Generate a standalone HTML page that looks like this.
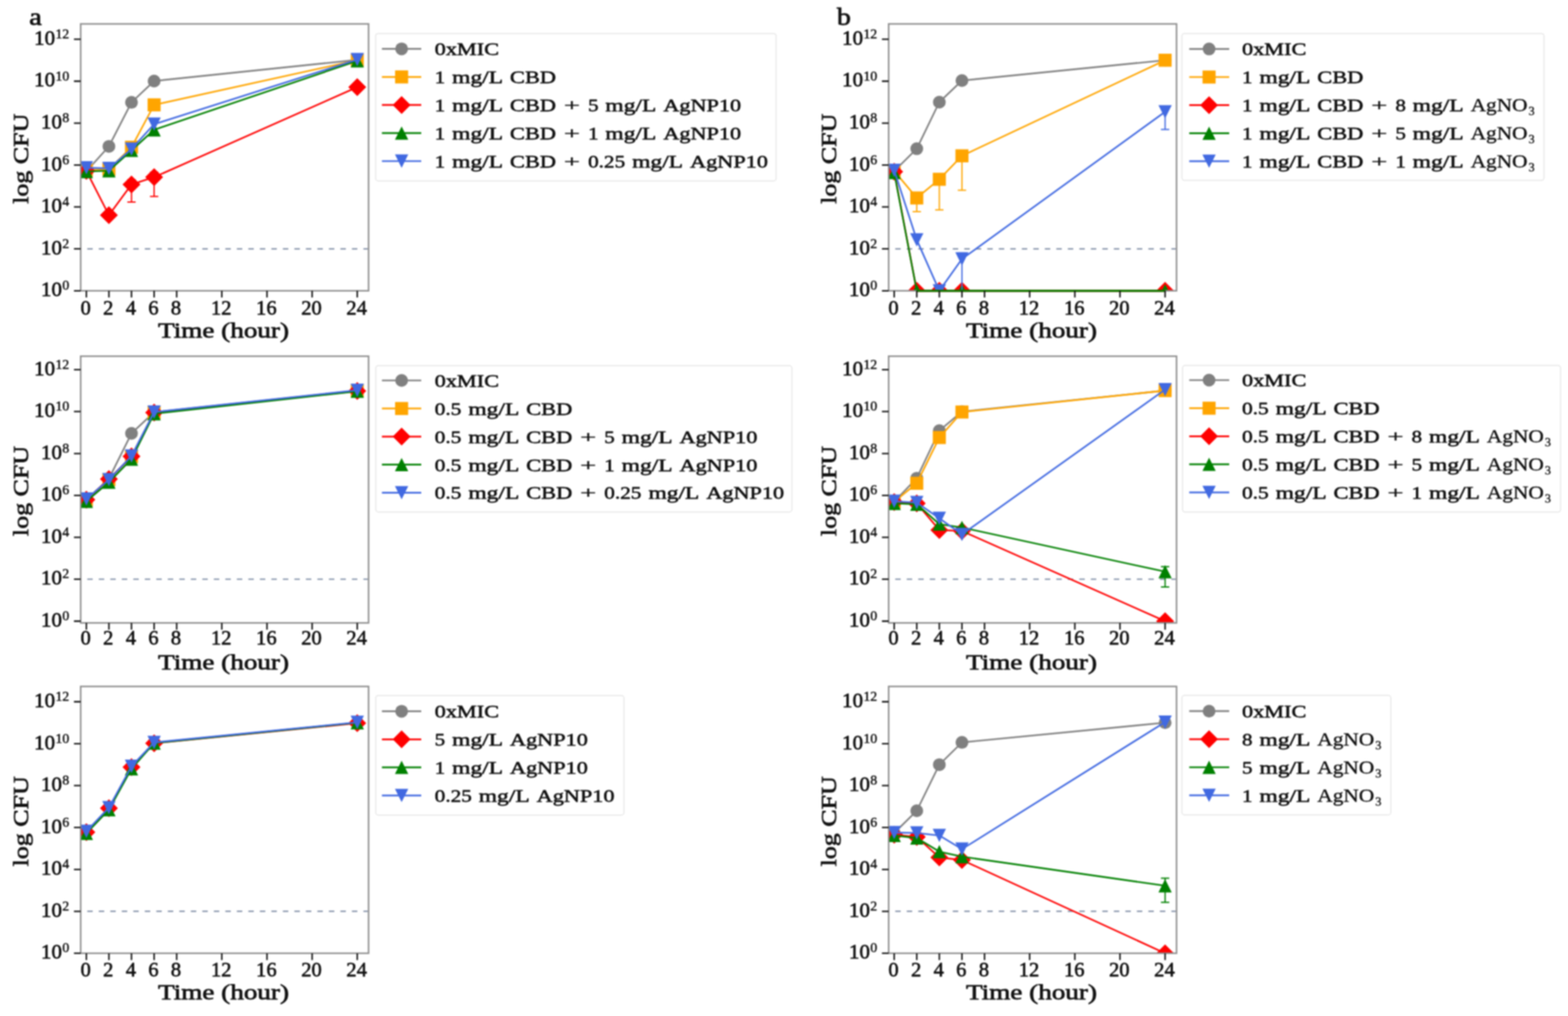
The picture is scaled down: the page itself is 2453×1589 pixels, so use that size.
<!DOCTYPE html>
<html><head><meta charset="utf-8"><title>Time-kill curves</title>
<style>
html,body{margin:0;padding:0;background:#fff;}
svg{display:block;}
.tb{font-family:'Liberation Serif', serif;font-weight:bold;fill:#111;}
.tr{font-family:'Liberation Serif', serif;font-weight:normal;fill:#111;}
.tm{font-family:'Liberation Serif', serif;font-weight:normal;fill:#111;stroke:#111;stroke-width:0.5px;}
.tc{font-family:'Liberation Serif', serif;font-weight:normal;fill:#111;stroke:#111;stroke-linejoin:round;}
</style></head><body>
<svg width="2453" height="1589" viewBox="0 0 2453 1589">
<defs><filter id="soft" x="0" y="0" width="2453" height="1589" filterUnits="userSpaceOnUse" color-interpolation-filters="sRGB"><feGaussianBlur stdDeviation="0.8"/></filter></defs>
<g filter="url(#soft)">
<rect width="2453" height="1589" fill="#fff"/>
<clipPath id="clipa1"><rect x="126.2" y="37.4" width="450.4" height="417.4"/></clipPath>
<line x1="127.2" y1="389.2" x2="575.6" y2="389.2" stroke="#7886a0" stroke-width="2.0" stroke-dasharray="8.5 9.5" stroke-dashoffset="8.65"/>
<g clip-path="url(#clipa1)">
<path d="M135.1 268.0L170.4 228.9L205.7 160.1L241.1 126.7L558.9 93.6" fill="none" stroke="#808080" stroke-width="2.6" stroke-linejoin="round"/>
<circle cx="135.1" cy="268.0" r="10" fill="#808080"/>
<circle cx="170.4" cy="228.9" r="10" fill="#808080"/>
<circle cx="205.7" cy="160.1" r="10" fill="#808080"/>
<circle cx="241.1" cy="126.7" r="10" fill="#808080"/>
<circle cx="558.9" cy="93.6" r="10" fill="#808080"/>
<path d="M135.1 266.3L170.4 264.7L205.7 230.3L241.1 164.0L558.9 94.2" fill="none" stroke="#ffa500" stroke-width="2.6" stroke-linejoin="round"/>
<rect x="124.9" y="256.1" width="20.4" height="20.4" fill="#ffa500"/>
<rect x="160.2" y="254.5" width="20.4" height="20.4" fill="#ffa500"/>
<rect x="195.5" y="220.1" width="20.4" height="20.4" fill="#ffa500"/>
<rect x="230.9" y="153.8" width="20.4" height="20.4" fill="#ffa500"/>
<rect x="548.7" y="84.0" width="20.4" height="20.4" fill="#ffa500"/>
<path d="M135.1 267.3L170.4 336.5L205.7 288.6L241.1 277.1L558.9 136.2" fill="none" stroke="#ff0000" stroke-width="2.6" stroke-linejoin="round"/>
<line x1="205.7" y1="281.1" x2="205.7" y2="316.1" stroke="#ff0000" stroke-width="2"/>
<line x1="199.2" y1="316.1" x2="212.2" y2="316.1" stroke="#ff0000" stroke-width="2"/>
<line x1="199.2" y1="281.1" x2="212.2" y2="281.1" stroke="#ff0000" stroke-width="2"/>
<line x1="241.1" y1="269.6" x2="241.1" y2="307.3" stroke="#ff0000" stroke-width="2"/>
<line x1="234.6" y1="307.3" x2="247.6" y2="307.3" stroke="#ff0000" stroke-width="2"/>
<line x1="234.6" y1="269.6" x2="247.6" y2="269.6" stroke="#ff0000" stroke-width="2"/>
<path d="M135.1 253.3L149.1 267.3L135.1 281.3L121.1 267.3Z" fill="#ff0000"/>
<path d="M170.4 322.5L184.4 336.5L170.4 350.5L156.4 336.5Z" fill="#ff0000"/>
<path d="M205.7 274.6L219.7 288.6L205.7 302.6L191.7 288.6Z" fill="#ff0000"/>
<path d="M241.1 263.1L255.1 277.1L241.1 291.1L227.1 277.1Z" fill="#ff0000"/>
<path d="M558.9 122.2L572.9 136.2L558.9 150.2L544.9 136.2Z" fill="#ff0000"/>
<path d="M135.1 268.3L170.4 267.0L205.7 235.2L241.1 203.0L558.9 95.2" fill="none" stroke="#008000" stroke-width="2.6" stroke-linejoin="round"/>
<path d="M135.1 257.9L145.5 278.7L124.7 278.7Z" fill="#008000"/>
<path d="M170.4 256.6L180.8 277.4L160.0 277.4Z" fill="#008000"/>
<path d="M205.7 224.8L216.1 245.6L195.3 245.6Z" fill="#008000"/>
<path d="M241.1 192.6L251.5 213.4L230.7 213.4Z" fill="#008000"/>
<path d="M558.9 84.8L569.3 105.6L548.5 105.6Z" fill="#008000"/>
<path d="M135.1 262.4L170.4 263.4L205.7 233.2L241.1 194.2L558.9 93.2" fill="none" stroke="#4169e1" stroke-width="2.6" stroke-linejoin="round"/>
<path d="M135.1 272.8L145.5 252.0L124.7 252.0Z" fill="#4169e1"/>
<path d="M170.4 273.8L180.8 253.0L160.0 253.0Z" fill="#4169e1"/>
<path d="M205.7 243.6L216.1 222.8L195.3 222.8Z" fill="#4169e1"/>
<path d="M241.1 204.6L251.5 183.8L230.7 183.8Z" fill="#4169e1"/>
<path d="M558.9 103.6L569.3 82.8L548.5 82.8Z" fill="#4169e1"/>
</g>
<rect x="126.2" y="37.4" width="450.4" height="417.4" fill="none" stroke="#8e8e8e" stroke-width="2.4"/>
<path d="M135.1 454.8V465.3M170.4 454.8V465.3M205.7 454.8V465.3M241.1 454.8V465.3M276.4 454.8V465.3M347.0 454.8V465.3M417.7 454.8V465.3M488.3 454.8V465.3M558.9 454.8V465.3M126.2 454.8H115.7M126.2 389.2H115.7M126.2 323.7H115.7M126.2 258.1H115.7M126.2 192.6H115.7M126.2 127.0H115.7M126.2 61.4H115.7" stroke="#111" stroke-width="2.3" fill="none"/>
<text x="134.1" y="491.8" font-size="31.5" text-anchor="middle" class="tc" stroke-width="0.9" textLength="16.1" lengthAdjust="spacingAndGlyphs">0</text>
<text x="169.4" y="491.8" font-size="31.5" text-anchor="middle" class="tc" stroke-width="0.9" textLength="16.1" lengthAdjust="spacingAndGlyphs">2</text>
<text x="204.7" y="491.8" font-size="31.5" text-anchor="middle" class="tc" stroke-width="0.9" textLength="16.1" lengthAdjust="spacingAndGlyphs">4</text>
<text x="240.1" y="491.8" font-size="31.5" text-anchor="middle" class="tc" stroke-width="0.9" textLength="16.1" lengthAdjust="spacingAndGlyphs">6</text>
<text x="275.4" y="491.8" font-size="31.5" text-anchor="middle" class="tc" stroke-width="0.9" textLength="16.1" lengthAdjust="spacingAndGlyphs">8</text>
<text x="346.0" y="491.8" font-size="31.5" text-anchor="middle" class="tc" stroke-width="0.9" textLength="32.2" lengthAdjust="spacingAndGlyphs">12</text>
<text x="416.7" y="491.8" font-size="31.5" text-anchor="middle" class="tc" stroke-width="0.9" textLength="32.2" lengthAdjust="spacingAndGlyphs">16</text>
<text x="487.3" y="491.8" font-size="31.5" text-anchor="middle" class="tc" stroke-width="0.9" textLength="32.2" lengthAdjust="spacingAndGlyphs">20</text>
<text x="557.9" y="491.8" font-size="31.5" text-anchor="middle" class="tc" stroke-width="0.9" textLength="32.2" lengthAdjust="spacingAndGlyphs">24</text>
<text x="108.3" y="453.3" font-size="21.5" text-anchor="end" class="tc" stroke-width="0.6">0</text>
<text x="97.0" y="463.2" font-size="31" text-anchor="end" class="tc" stroke-width="0.9" textLength="33" lengthAdjust="spacingAndGlyphs">10</text>
<text x="108.3" y="387.7" font-size="21.5" text-anchor="end" class="tc" stroke-width="0.6">2</text>
<text x="97.0" y="397.6" font-size="31" text-anchor="end" class="tc" stroke-width="0.9" textLength="33" lengthAdjust="spacingAndGlyphs">10</text>
<text x="108.3" y="322.2" font-size="21.5" text-anchor="end" class="tc" stroke-width="0.6">4</text>
<text x="97.0" y="332.1" font-size="31" text-anchor="end" class="tc" stroke-width="0.9" textLength="33" lengthAdjust="spacingAndGlyphs">10</text>
<text x="108.3" y="256.6" font-size="21.5" text-anchor="end" class="tc" stroke-width="0.6">6</text>
<text x="97.0" y="266.5" font-size="31" text-anchor="end" class="tc" stroke-width="0.9" textLength="33" lengthAdjust="spacingAndGlyphs">10</text>
<text x="108.3" y="191.1" font-size="21.5" text-anchor="end" class="tc" stroke-width="0.6">8</text>
<text x="97.0" y="201.0" font-size="31" text-anchor="end" class="tc" stroke-width="0.9" textLength="33" lengthAdjust="spacingAndGlyphs">10</text>
<text x="108.3" y="125.5" font-size="21.5" text-anchor="end" class="tc" stroke-width="0.6">10</text>
<text x="86.2" y="135.4" font-size="31" text-anchor="end" class="tc" stroke-width="0.9" textLength="33" lengthAdjust="spacingAndGlyphs">10</text>
<text x="108.3" y="59.9" font-size="21.5" text-anchor="end" class="tc" stroke-width="0.6">12</text>
<text x="86.2" y="69.8" font-size="31" text-anchor="end" class="tc" stroke-width="0.9" textLength="33" lengthAdjust="spacingAndGlyphs">10</text>
<text x="349.7" y="527.6" font-size="33.5" text-anchor="middle" class="tc" stroke-width="1.0" textLength="205" lengthAdjust="spacingAndGlyphs">Time (hour)</text>
<text transform="translate(43.7 248.3) rotate(-90)" x="0" y="0" font-size="34.5" text-anchor="middle" class="tc" stroke-width="1.0" textLength="141" lengthAdjust="spacingAndGlyphs">log CFU</text>
<rect x="587.6" y="52.4" width="626.6" height="230.6" rx="4" fill="#fff" fill-opacity="0.85" stroke="#e4e4e4" stroke-width="1.5"/>
<line x1="597.5" y1="76.4" x2="659.0" y2="76.4" stroke="#808080" stroke-width="2.7"/>
<circle cx="628.3" cy="76.4" r="10" fill="#808080"/>
<text x="680.0" y="86.2" font-size="28" class="tc" stroke-width="0.8" textLength="100.7" lengthAdjust="spacingAndGlyphs">0xMIC</text>
<line x1="597.5" y1="120.3" x2="659.0" y2="120.3" stroke="#ffa500" stroke-width="2.7"/>
<rect x="618.1" y="110.1" width="20.4" height="20.4" fill="#ffa500"/>
<text x="680.0" y="130.1" font-size="28" class="tc" stroke-width="0.8" textLength="16.4" lengthAdjust="spacingAndGlyphs">1</text>
<text x="707.3" y="130.1" font-size="28" class="tc" stroke-width="0.8" textLength="79.7" lengthAdjust="spacingAndGlyphs">mg/L</text>
<text x="797.8" y="130.1" font-size="28" class="tc" stroke-width="0.8" textLength="72.0" lengthAdjust="spacingAndGlyphs">CBD</text>
<line x1="597.5" y1="164.2" x2="659.0" y2="164.2" stroke="#ff0000" stroke-width="2.7"/>
<path d="M628.3 150.2L642.3 164.2L628.3 178.2L614.3 164.2Z" fill="#ff0000"/>
<text x="680.0" y="174.0" font-size="28" class="tc" stroke-width="0.8" textLength="16.4" lengthAdjust="spacingAndGlyphs">1</text>
<text x="707.3" y="174.0" font-size="28" class="tc" stroke-width="0.8" textLength="79.7" lengthAdjust="spacingAndGlyphs">mg/L</text>
<text x="797.8" y="174.0" font-size="28" class="tc" stroke-width="0.8" textLength="72.0" lengthAdjust="spacingAndGlyphs">CBD</text>
<text x="882.1" y="174.0" font-size="28" class="tm" textLength="25.4" lengthAdjust="spacingAndGlyphs">+</text>
<text x="919.9" y="174.0" font-size="28" class="tc" stroke-width="0.8" textLength="16.4" lengthAdjust="spacingAndGlyphs">5</text>
<text x="947.1" y="174.0" font-size="28" class="tc" stroke-width="0.8" textLength="79.7" lengthAdjust="spacingAndGlyphs">mg/L</text>
<text x="1037.7" y="174.0" font-size="28" class="tc" stroke-width="0.8" textLength="121.8" lengthAdjust="spacingAndGlyphs">AgNP10</text>
<line x1="597.5" y1="208.1" x2="659.0" y2="208.1" stroke="#008000" stroke-width="2.7"/>
<path d="M628.3 197.7L638.7 218.5L617.9 218.5Z" fill="#008000"/>
<text x="680.0" y="217.9" font-size="28" class="tc" stroke-width="0.8" textLength="16.4" lengthAdjust="spacingAndGlyphs">1</text>
<text x="707.3" y="217.9" font-size="28" class="tc" stroke-width="0.8" textLength="79.7" lengthAdjust="spacingAndGlyphs">mg/L</text>
<text x="797.8" y="217.9" font-size="28" class="tc" stroke-width="0.8" textLength="72.0" lengthAdjust="spacingAndGlyphs">CBD</text>
<text x="882.1" y="217.9" font-size="28" class="tm" textLength="25.4" lengthAdjust="spacingAndGlyphs">+</text>
<text x="919.9" y="217.9" font-size="28" class="tc" stroke-width="0.8" textLength="16.4" lengthAdjust="spacingAndGlyphs">1</text>
<text x="947.1" y="217.9" font-size="28" class="tc" stroke-width="0.8" textLength="79.7" lengthAdjust="spacingAndGlyphs">mg/L</text>
<text x="1037.7" y="217.9" font-size="28" class="tc" stroke-width="0.8" textLength="121.8" lengthAdjust="spacingAndGlyphs">AgNP10</text>
<line x1="597.5" y1="252.0" x2="659.0" y2="252.0" stroke="#4169e1" stroke-width="2.7"/>
<path d="M628.3 262.4L638.7 241.6L617.9 241.6Z" fill="#4169e1"/>
<text x="680.0" y="261.8" font-size="28" class="tc" stroke-width="0.8" textLength="16.4" lengthAdjust="spacingAndGlyphs">1</text>
<text x="707.3" y="261.8" font-size="28" class="tc" stroke-width="0.8" textLength="79.7" lengthAdjust="spacingAndGlyphs">mg/L</text>
<text x="797.8" y="261.8" font-size="28" class="tc" stroke-width="0.8" textLength="72.0" lengthAdjust="spacingAndGlyphs">CBD</text>
<text x="882.1" y="261.8" font-size="28" class="tm" textLength="25.4" lengthAdjust="spacingAndGlyphs">+</text>
<text x="919.9" y="261.8" font-size="28" class="tc" stroke-width="0.8" textLength="58.2" lengthAdjust="spacingAndGlyphs">0.25</text>
<text x="988.9" y="261.8" font-size="28" class="tc" stroke-width="0.8" textLength="79.7" lengthAdjust="spacingAndGlyphs">mg/L</text>
<text x="1079.5" y="261.8" font-size="28" class="tc" stroke-width="0.8" textLength="121.8" lengthAdjust="spacingAndGlyphs">AgNP10</text>
<clipPath id="clipb1"><rect x="1390.2" y="37.4" width="450.4" height="417.4"/></clipPath>
<line x1="1391.2" y1="389.2" x2="1839.6" y2="389.2" stroke="#7886a0" stroke-width="2.0" stroke-dasharray="8.5 9.5" stroke-dashoffset="8.65"/>
<g clip-path="url(#clipb1)">
<path d="M1398.9 267.6L1434.2 232.6L1469.5 159.8L1504.9 126.0L1822.7 94.2" fill="none" stroke="#808080" stroke-width="2.6" stroke-linejoin="round"/>
<circle cx="1398.9" cy="267.6" r="10" fill="#808080"/>
<circle cx="1434.2" cy="232.6" r="10" fill="#808080"/>
<circle cx="1469.5" cy="159.8" r="10" fill="#808080"/>
<circle cx="1504.9" cy="126.0" r="10" fill="#808080"/>
<circle cx="1822.7" cy="94.2" r="10" fill="#808080"/>
<path d="M1398.9 267.3L1434.2 309.6L1469.5 280.4L1504.9 243.7L1822.7 94.2" fill="none" stroke="#ffa500" stroke-width="2.6" stroke-linejoin="round"/>
<line x1="1434.2" y1="304.0" x2="1434.2" y2="330.9" stroke="#ffa500" stroke-width="2"/>
<line x1="1427.7" y1="330.9" x2="1440.7" y2="330.9" stroke="#ffa500" stroke-width="2"/>
<line x1="1427.7" y1="304.0" x2="1440.7" y2="304.0" stroke="#ffa500" stroke-width="2"/>
<line x1="1469.5" y1="274.5" x2="1469.5" y2="328.3" stroke="#ffa500" stroke-width="2"/>
<line x1="1463.0" y1="328.3" x2="1476.0" y2="328.3" stroke="#ffa500" stroke-width="2"/>
<line x1="1463.0" y1="274.5" x2="1476.0" y2="274.5" stroke="#ffa500" stroke-width="2"/>
<line x1="1504.9" y1="238.5" x2="1504.9" y2="297.5" stroke="#ffa500" stroke-width="2"/>
<line x1="1498.4" y1="297.5" x2="1511.4" y2="297.5" stroke="#ffa500" stroke-width="2"/>
<line x1="1498.4" y1="238.5" x2="1511.4" y2="238.5" stroke="#ffa500" stroke-width="2"/>
<rect x="1388.7" y="257.1" width="20.4" height="20.4" fill="#ffa500"/>
<rect x="1424.0" y="299.4" width="20.4" height="20.4" fill="#ffa500"/>
<rect x="1459.3" y="270.2" width="20.4" height="20.4" fill="#ffa500"/>
<rect x="1494.7" y="233.5" width="20.4" height="20.4" fill="#ffa500"/>
<rect x="1812.5" y="84.0" width="20.4" height="20.4" fill="#ffa500"/>
<path d="M1398.9 268.6L1434.2 454.8L1469.5 454.8L1504.9 454.8L1822.7 454.8" fill="none" stroke="#ff0000" stroke-width="2.6" stroke-linejoin="round"/>
<path d="M1398.9 254.6L1412.9 268.6L1398.9 282.6L1384.9 268.6Z" fill="#ff0000"/>
<path d="M1434.2 440.8L1448.2 454.8L1434.2 468.8L1420.2 454.8Z" fill="#ff0000"/>
<path d="M1469.5 440.8L1483.5 454.8L1469.5 468.8L1455.5 454.8Z" fill="#ff0000"/>
<path d="M1504.9 440.8L1518.9 454.8L1504.9 468.8L1490.9 454.8Z" fill="#ff0000"/>
<path d="M1822.7 440.8L1836.7 454.8L1822.7 468.8L1808.7 454.8Z" fill="#ff0000"/>
<path d="M1398.9 269.9L1434.2 454.8L1469.5 454.8L1504.9 454.8L1822.7 454.8" fill="none" stroke="#008000" stroke-width="2.6" stroke-linejoin="round"/>
<path d="M1398.9 259.5L1409.3 280.3L1388.5 280.3Z" fill="#008000"/>
<path d="M1434.2 444.4L1444.6 465.2L1423.8 465.2Z" fill="#008000"/>
<path d="M1469.5 444.4L1479.9 465.2L1459.1 465.2Z" fill="#008000"/>
<path d="M1504.9 444.4L1515.3 465.2L1494.5 465.2Z" fill="#008000"/>
<path d="M1822.7 444.4L1833.1 465.2L1812.3 465.2Z" fill="#008000"/>
<path d="M1398.9 266.3L1434.2 375.1L1469.5 454.8L1504.9 405.0L1822.7 174.9" fill="none" stroke="#4169e1" stroke-width="2.6" stroke-linejoin="round"/>
<line x1="1504.9" y1="395.8" x2="1504.9" y2="487.6" stroke="#4169e1" stroke-width="2"/>
<line x1="1498.4" y1="487.6" x2="1511.4" y2="487.6" stroke="#4169e1" stroke-width="2"/>
<line x1="1498.4" y1="395.8" x2="1511.4" y2="395.8" stroke="#4169e1" stroke-width="2"/>
<line x1="1822.7" y1="169.6" x2="1822.7" y2="202.4" stroke="#4169e1" stroke-width="2"/>
<line x1="1816.2" y1="202.4" x2="1829.2" y2="202.4" stroke="#4169e1" stroke-width="2"/>
<line x1="1816.2" y1="169.6" x2="1829.2" y2="169.6" stroke="#4169e1" stroke-width="2"/>
<path d="M1398.9 276.7L1409.3 255.9L1388.5 255.9Z" fill="#4169e1"/>
<path d="M1434.2 385.5L1444.6 364.7L1423.8 364.7Z" fill="#4169e1"/>
<path d="M1469.5 465.2L1479.9 444.4L1459.1 444.4Z" fill="#4169e1"/>
<path d="M1504.9 415.4L1515.3 394.6L1494.5 394.6Z" fill="#4169e1"/>
<path d="M1822.7 185.3L1833.1 164.5L1812.3 164.5Z" fill="#4169e1"/>
</g>
<rect x="1390.2" y="37.4" width="450.4" height="417.4" fill="none" stroke="#8e8e8e" stroke-width="2.4"/>
<line x1="1434.2" y1="454.8" x2="1469.5" y2="454.8" stroke="#ff0000" stroke-width="3.2"/>
<line x1="1469.5" y1="454.8" x2="1504.9" y2="454.8" stroke="#ff0000" stroke-width="3.2"/>
<line x1="1504.9" y1="454.8" x2="1822.7" y2="454.8" stroke="#ff0000" stroke-width="3.2"/>
<line x1="1434.2" y1="454.8" x2="1469.5" y2="454.8" stroke="#008000" stroke-width="3.2"/>
<line x1="1469.5" y1="454.8" x2="1504.9" y2="454.8" stroke="#008000" stroke-width="3.2"/>
<line x1="1504.9" y1="454.8" x2="1822.7" y2="454.8" stroke="#008000" stroke-width="3.2"/>
<path d="M1398.9 454.8V465.3M1434.2 454.8V465.3M1469.5 454.8V465.3M1504.9 454.8V465.3M1540.2 454.8V465.3M1610.8 454.8V465.3M1681.5 454.8V465.3M1752.1 454.8V465.3M1822.7 454.8V465.3M1390.2 454.8H1379.7M1390.2 389.2H1379.7M1390.2 323.7H1379.7M1390.2 258.1H1379.7M1390.2 192.6H1379.7M1390.2 127.0H1379.7M1390.2 61.4H1379.7" stroke="#111" stroke-width="2.3" fill="none"/>
<text x="1397.9" y="491.8" font-size="31.5" text-anchor="middle" class="tc" stroke-width="0.9" textLength="16.1" lengthAdjust="spacingAndGlyphs">0</text>
<text x="1433.2" y="491.8" font-size="31.5" text-anchor="middle" class="tc" stroke-width="0.9" textLength="16.1" lengthAdjust="spacingAndGlyphs">2</text>
<text x="1468.5" y="491.8" font-size="31.5" text-anchor="middle" class="tc" stroke-width="0.9" textLength="16.1" lengthAdjust="spacingAndGlyphs">4</text>
<text x="1503.9" y="491.8" font-size="31.5" text-anchor="middle" class="tc" stroke-width="0.9" textLength="16.1" lengthAdjust="spacingAndGlyphs">6</text>
<text x="1539.2" y="491.8" font-size="31.5" text-anchor="middle" class="tc" stroke-width="0.9" textLength="16.1" lengthAdjust="spacingAndGlyphs">8</text>
<text x="1609.8" y="491.8" font-size="31.5" text-anchor="middle" class="tc" stroke-width="0.9" textLength="32.2" lengthAdjust="spacingAndGlyphs">12</text>
<text x="1680.5" y="491.8" font-size="31.5" text-anchor="middle" class="tc" stroke-width="0.9" textLength="32.2" lengthAdjust="spacingAndGlyphs">16</text>
<text x="1751.1" y="491.8" font-size="31.5" text-anchor="middle" class="tc" stroke-width="0.9" textLength="32.2" lengthAdjust="spacingAndGlyphs">20</text>
<text x="1821.7" y="491.8" font-size="31.5" text-anchor="middle" class="tc" stroke-width="0.9" textLength="32.2" lengthAdjust="spacingAndGlyphs">24</text>
<text x="1372.3" y="453.3" font-size="21.5" text-anchor="end" class="tc" stroke-width="0.6">0</text>
<text x="1361.0" y="463.2" font-size="31" text-anchor="end" class="tc" stroke-width="0.9" textLength="33" lengthAdjust="spacingAndGlyphs">10</text>
<text x="1372.3" y="387.7" font-size="21.5" text-anchor="end" class="tc" stroke-width="0.6">2</text>
<text x="1361.0" y="397.6" font-size="31" text-anchor="end" class="tc" stroke-width="0.9" textLength="33" lengthAdjust="spacingAndGlyphs">10</text>
<text x="1372.3" y="322.2" font-size="21.5" text-anchor="end" class="tc" stroke-width="0.6">4</text>
<text x="1361.0" y="332.1" font-size="31" text-anchor="end" class="tc" stroke-width="0.9" textLength="33" lengthAdjust="spacingAndGlyphs">10</text>
<text x="1372.3" y="256.6" font-size="21.5" text-anchor="end" class="tc" stroke-width="0.6">6</text>
<text x="1361.0" y="266.5" font-size="31" text-anchor="end" class="tc" stroke-width="0.9" textLength="33" lengthAdjust="spacingAndGlyphs">10</text>
<text x="1372.3" y="191.1" font-size="21.5" text-anchor="end" class="tc" stroke-width="0.6">8</text>
<text x="1361.0" y="201.0" font-size="31" text-anchor="end" class="tc" stroke-width="0.9" textLength="33" lengthAdjust="spacingAndGlyphs">10</text>
<text x="1372.3" y="125.5" font-size="21.5" text-anchor="end" class="tc" stroke-width="0.6">10</text>
<text x="1350.2" y="135.4" font-size="31" text-anchor="end" class="tc" stroke-width="0.9" textLength="33" lengthAdjust="spacingAndGlyphs">10</text>
<text x="1372.3" y="59.9" font-size="21.5" text-anchor="end" class="tc" stroke-width="0.6">12</text>
<text x="1350.2" y="69.8" font-size="31" text-anchor="end" class="tc" stroke-width="0.9" textLength="33" lengthAdjust="spacingAndGlyphs">10</text>
<text x="1613.7" y="527.6" font-size="33.5" text-anchor="middle" class="tc" stroke-width="1.0" textLength="205" lengthAdjust="spacingAndGlyphs">Time (hour)</text>
<text transform="translate(1307.7 248.3) rotate(-90)" x="0" y="0" font-size="34.5" text-anchor="middle" class="tc" stroke-width="1.0" textLength="141" lengthAdjust="spacingAndGlyphs">log CFU</text>
<rect x="1849.0" y="52.4" width="566.5" height="229.7" rx="4" fill="#fff" fill-opacity="0.85" stroke="#e4e4e4" stroke-width="1.5"/>
<line x1="1860.5" y1="76.6" x2="1923.0" y2="76.6" stroke="#808080" stroke-width="2.7"/>
<circle cx="1891.5" cy="76.6" r="10" fill="#808080"/>
<text x="1943.0" y="86.4" font-size="28" class="tc" stroke-width="0.8" textLength="100.7" lengthAdjust="spacingAndGlyphs">0xMIC</text>
<line x1="1860.5" y1="120.5" x2="1923.0" y2="120.5" stroke="#ffa500" stroke-width="2.7"/>
<rect x="1881.3" y="110.3" width="20.4" height="20.4" fill="#ffa500"/>
<text x="1943.0" y="130.3" font-size="28" class="tc" stroke-width="0.8" textLength="16.4" lengthAdjust="spacingAndGlyphs">1</text>
<text x="1970.3" y="130.3" font-size="28" class="tc" stroke-width="0.8" textLength="79.7" lengthAdjust="spacingAndGlyphs">mg/L</text>
<text x="2060.8" y="130.3" font-size="28" class="tc" stroke-width="0.8" textLength="72.0" lengthAdjust="spacingAndGlyphs">CBD</text>
<line x1="1860.5" y1="164.4" x2="1923.0" y2="164.4" stroke="#ff0000" stroke-width="2.7"/>
<path d="M1891.5 150.4L1905.5 164.4L1891.5 178.4L1877.5 164.4Z" fill="#ff0000"/>
<text x="1943.0" y="174.2" font-size="28" class="tc" stroke-width="0.8" textLength="16.4" lengthAdjust="spacingAndGlyphs">1</text>
<text x="1970.3" y="174.2" font-size="28" class="tc" stroke-width="0.8" textLength="79.7" lengthAdjust="spacingAndGlyphs">mg/L</text>
<text x="2060.8" y="174.2" font-size="28" class="tc" stroke-width="0.8" textLength="72.0" lengthAdjust="spacingAndGlyphs">CBD</text>
<text x="2145.1" y="174.2" font-size="28" class="tm" textLength="25.4" lengthAdjust="spacingAndGlyphs">+</text>
<text x="2182.9" y="174.2" font-size="28" class="tc" stroke-width="0.8" textLength="16.4" lengthAdjust="spacingAndGlyphs">8</text>
<text x="2210.1" y="174.2" font-size="28" class="tc" stroke-width="0.8" textLength="79.7" lengthAdjust="spacingAndGlyphs">mg/L</text>
<text x="2300.7" y="174.2" font-size="29.5" class="tm" textLength="89.0" lengthAdjust="spacingAndGlyphs">AgNO</text>
<text x="2391.3" y="180.2" font-size="19" class="tm">3</text>
<line x1="1860.5" y1="208.3" x2="1923.0" y2="208.3" stroke="#008000" stroke-width="2.7"/>
<path d="M1891.5 197.9L1901.9 218.7L1881.1 218.7Z" fill="#008000"/>
<text x="1943.0" y="218.1" font-size="28" class="tc" stroke-width="0.8" textLength="16.4" lengthAdjust="spacingAndGlyphs">1</text>
<text x="1970.3" y="218.1" font-size="28" class="tc" stroke-width="0.8" textLength="79.7" lengthAdjust="spacingAndGlyphs">mg/L</text>
<text x="2060.8" y="218.1" font-size="28" class="tc" stroke-width="0.8" textLength="72.0" lengthAdjust="spacingAndGlyphs">CBD</text>
<text x="2145.1" y="218.1" font-size="28" class="tm" textLength="25.4" lengthAdjust="spacingAndGlyphs">+</text>
<text x="2182.9" y="218.1" font-size="28" class="tc" stroke-width="0.8" textLength="16.4" lengthAdjust="spacingAndGlyphs">5</text>
<text x="2210.1" y="218.1" font-size="28" class="tc" stroke-width="0.8" textLength="79.7" lengthAdjust="spacingAndGlyphs">mg/L</text>
<text x="2300.7" y="218.1" font-size="29.5" class="tm" textLength="89.0" lengthAdjust="spacingAndGlyphs">AgNO</text>
<text x="2391.3" y="224.1" font-size="19" class="tm">3</text>
<line x1="1860.5" y1="252.2" x2="1923.0" y2="252.2" stroke="#4169e1" stroke-width="2.7"/>
<path d="M1891.5 262.6L1901.9 241.8L1881.1 241.8Z" fill="#4169e1"/>
<text x="1943.0" y="262.0" font-size="28" class="tc" stroke-width="0.8" textLength="16.4" lengthAdjust="spacingAndGlyphs">1</text>
<text x="1970.3" y="262.0" font-size="28" class="tc" stroke-width="0.8" textLength="79.7" lengthAdjust="spacingAndGlyphs">mg/L</text>
<text x="2060.8" y="262.0" font-size="28" class="tc" stroke-width="0.8" textLength="72.0" lengthAdjust="spacingAndGlyphs">CBD</text>
<text x="2145.1" y="262.0" font-size="28" class="tm" textLength="25.4" lengthAdjust="spacingAndGlyphs">+</text>
<text x="2182.9" y="262.0" font-size="28" class="tc" stroke-width="0.8" textLength="16.4" lengthAdjust="spacingAndGlyphs">1</text>
<text x="2210.1" y="262.0" font-size="28" class="tc" stroke-width="0.8" textLength="79.7" lengthAdjust="spacingAndGlyphs">mg/L</text>
<text x="2300.7" y="262.0" font-size="29.5" class="tm" textLength="89.0" lengthAdjust="spacingAndGlyphs">AgNO</text>
<text x="2391.3" y="268.0" font-size="19" class="tm">3</text>
<clipPath id="clipa2"><rect x="126.2" y="557.1" width="450.4" height="417.1"/></clipPath>
<line x1="127.2" y1="905.9" x2="575.6" y2="905.9" stroke="#8d9ab0" stroke-width="2.2" stroke-dasharray="8.5 9.5" stroke-dashoffset="8.65"/>
<g clip-path="url(#clipa2)">
<path d="M135.1 782.0L170.4 748.6L205.7 677.8L241.1 644.7L558.9 610.9" fill="none" stroke="#808080" stroke-width="2.6" stroke-linejoin="round"/>
<circle cx="135.1" cy="782.0" r="10" fill="#808080"/>
<circle cx="170.4" cy="748.6" r="10" fill="#808080"/>
<circle cx="205.7" cy="677.8" r="10" fill="#808080"/>
<circle cx="241.1" cy="644.7" r="10" fill="#808080"/>
<circle cx="558.9" cy="610.9" r="10" fill="#808080"/>
<path d="M135.1 782.0L170.4 750.2L205.7 714.2L241.1 645.3L558.9 610.9" fill="none" stroke="#ffa500" stroke-width="2.6" stroke-linejoin="round"/>
<rect x="124.9" y="771.8" width="20.4" height="20.4" fill="#ffa500"/>
<rect x="160.2" y="740.0" width="20.4" height="20.4" fill="#ffa500"/>
<rect x="195.5" y="704.0" width="20.4" height="20.4" fill="#ffa500"/>
<rect x="230.9" y="635.1" width="20.4" height="20.4" fill="#ffa500"/>
<rect x="548.7" y="600.7" width="20.4" height="20.4" fill="#ffa500"/>
<path d="M135.1 781.4L170.4 749.3L205.7 713.8L241.1 645.3L558.9 611.6" fill="none" stroke="#ff0000" stroke-width="2.6" stroke-linejoin="round"/>
<path d="M135.1 767.4L149.1 781.4L135.1 795.4L121.1 781.4Z" fill="#ff0000"/>
<path d="M170.4 735.3L184.4 749.3L170.4 763.3L156.4 749.3Z" fill="#ff0000"/>
<path d="M205.7 699.8L219.7 713.8L205.7 727.8L191.7 713.8Z" fill="#ff0000"/>
<path d="M241.1 631.3L255.1 645.3L241.1 659.3L227.1 645.3Z" fill="#ff0000"/>
<path d="M558.9 597.6L572.9 611.6L558.9 625.6L544.9 611.6Z" fill="#ff0000"/>
<path d="M135.1 784.0L170.4 754.2L205.7 718.1L241.1 647.0L558.9 611.9" fill="none" stroke="#008000" stroke-width="2.6" stroke-linejoin="round"/>
<path d="M135.1 773.6L145.5 794.4L124.7 794.4Z" fill="#008000"/>
<path d="M170.4 743.8L180.8 764.6L160.0 764.6Z" fill="#008000"/>
<path d="M205.7 707.7L216.1 728.5L195.3 728.5Z" fill="#008000"/>
<path d="M241.1 636.6L251.5 657.4L230.7 657.4Z" fill="#008000"/>
<path d="M558.9 601.5L569.3 622.3L548.5 622.3Z" fill="#008000"/>
<path d="M135.1 780.4L170.4 750.2L205.7 713.2L241.1 644.4L558.9 610.3" fill="none" stroke="#4169e1" stroke-width="2.6" stroke-linejoin="round"/>
<path d="M135.1 790.8L145.5 770.0L124.7 770.0Z" fill="#4169e1"/>
<path d="M170.4 760.6L180.8 739.8L160.0 739.8Z" fill="#4169e1"/>
<path d="M205.7 723.6L216.1 702.8L195.3 702.8Z" fill="#4169e1"/>
<path d="M241.1 654.8L251.5 634.0L230.7 634.0Z" fill="#4169e1"/>
<path d="M558.9 620.7L569.3 599.9L548.5 599.9Z" fill="#4169e1"/>
</g>
<rect x="126.2" y="557.1" width="450.4" height="417.1" fill="none" stroke="#8e8e8e" stroke-width="2.4"/>
<path d="M135.1 974.2V984.7M170.4 974.2V984.7M205.7 974.2V984.7M241.1 974.2V984.7M276.4 974.2V984.7M347.0 974.2V984.7M417.7 974.2V984.7M488.3 974.2V984.7M558.9 974.2V984.7M126.2 971.5H115.7M126.2 905.9H115.7M126.2 840.4H115.7M126.2 774.8H115.7M126.2 709.3H115.7M126.2 643.7H115.7M126.2 578.1H115.7" stroke="#111" stroke-width="2.3" fill="none"/>
<text x="134.1" y="1008.0" font-size="31.5" text-anchor="middle" class="tc" stroke-width="0.9" textLength="16.1" lengthAdjust="spacingAndGlyphs">0</text>
<text x="169.4" y="1008.0" font-size="31.5" text-anchor="middle" class="tc" stroke-width="0.9" textLength="16.1" lengthAdjust="spacingAndGlyphs">2</text>
<text x="204.7" y="1008.0" font-size="31.5" text-anchor="middle" class="tc" stroke-width="0.9" textLength="16.1" lengthAdjust="spacingAndGlyphs">4</text>
<text x="240.1" y="1008.0" font-size="31.5" text-anchor="middle" class="tc" stroke-width="0.9" textLength="16.1" lengthAdjust="spacingAndGlyphs">6</text>
<text x="275.4" y="1008.0" font-size="31.5" text-anchor="middle" class="tc" stroke-width="0.9" textLength="16.1" lengthAdjust="spacingAndGlyphs">8</text>
<text x="346.0" y="1008.0" font-size="31.5" text-anchor="middle" class="tc" stroke-width="0.9" textLength="32.2" lengthAdjust="spacingAndGlyphs">12</text>
<text x="416.7" y="1008.0" font-size="31.5" text-anchor="middle" class="tc" stroke-width="0.9" textLength="32.2" lengthAdjust="spacingAndGlyphs">16</text>
<text x="487.3" y="1008.0" font-size="31.5" text-anchor="middle" class="tc" stroke-width="0.9" textLength="32.2" lengthAdjust="spacingAndGlyphs">20</text>
<text x="557.9" y="1008.0" font-size="31.5" text-anchor="middle" class="tc" stroke-width="0.9" textLength="32.2" lengthAdjust="spacingAndGlyphs">24</text>
<text x="108.3" y="970.0" font-size="21.5" text-anchor="end" class="tc" stroke-width="0.6">0</text>
<text x="97.0" y="979.9" font-size="31" text-anchor="end" class="tc" stroke-width="0.9" textLength="33" lengthAdjust="spacingAndGlyphs">10</text>
<text x="108.3" y="904.4" font-size="21.5" text-anchor="end" class="tc" stroke-width="0.6">2</text>
<text x="97.0" y="914.3" font-size="31" text-anchor="end" class="tc" stroke-width="0.9" textLength="33" lengthAdjust="spacingAndGlyphs">10</text>
<text x="108.3" y="838.9" font-size="21.5" text-anchor="end" class="tc" stroke-width="0.6">4</text>
<text x="97.0" y="848.8" font-size="31" text-anchor="end" class="tc" stroke-width="0.9" textLength="33" lengthAdjust="spacingAndGlyphs">10</text>
<text x="108.3" y="773.3" font-size="21.5" text-anchor="end" class="tc" stroke-width="0.6">6</text>
<text x="97.0" y="783.2" font-size="31" text-anchor="end" class="tc" stroke-width="0.9" textLength="33" lengthAdjust="spacingAndGlyphs">10</text>
<text x="108.3" y="707.8" font-size="21.5" text-anchor="end" class="tc" stroke-width="0.6">8</text>
<text x="97.0" y="717.7" font-size="31" text-anchor="end" class="tc" stroke-width="0.9" textLength="33" lengthAdjust="spacingAndGlyphs">10</text>
<text x="108.3" y="642.2" font-size="21.5" text-anchor="end" class="tc" stroke-width="0.6">10</text>
<text x="86.2" y="652.1" font-size="31" text-anchor="end" class="tc" stroke-width="0.9" textLength="33" lengthAdjust="spacingAndGlyphs">10</text>
<text x="108.3" y="576.6" font-size="21.5" text-anchor="end" class="tc" stroke-width="0.6">12</text>
<text x="86.2" y="586.5" font-size="31" text-anchor="end" class="tc" stroke-width="0.9" textLength="33" lengthAdjust="spacingAndGlyphs">10</text>
<text x="349.7" y="1046.6" font-size="33.5" text-anchor="middle" class="tc" stroke-width="1.0" textLength="205" lengthAdjust="spacingAndGlyphs">Time (hour)</text>
<text transform="translate(43.7 767.9) rotate(-90)" x="0" y="0" font-size="34.5" text-anchor="middle" class="tc" stroke-width="1.0" textLength="141" lengthAdjust="spacingAndGlyphs">log CFU</text>
<rect x="587.9" y="571.8" width="650.9" height="228.9" rx="4" fill="#fff" fill-opacity="0.85" stroke="#e4e4e4" stroke-width="1.5"/>
<line x1="597.5" y1="595.0" x2="659.0" y2="595.0" stroke="#808080" stroke-width="2.7"/>
<circle cx="628.3" cy="595.0" r="10" fill="#808080"/>
<text x="680.0" y="604.8" font-size="28" class="tc" stroke-width="0.8" textLength="100.7" lengthAdjust="spacingAndGlyphs">0xMIC</text>
<line x1="597.5" y1="638.9" x2="659.0" y2="638.9" stroke="#ffa500" stroke-width="2.7"/>
<rect x="618.1" y="628.7" width="20.4" height="20.4" fill="#ffa500"/>
<text x="680.0" y="648.7" font-size="28" class="tc" stroke-width="0.8" textLength="41.8" lengthAdjust="spacingAndGlyphs">0.5</text>
<text x="732.7" y="648.7" font-size="28" class="tc" stroke-width="0.8" textLength="79.7" lengthAdjust="spacingAndGlyphs">mg/L</text>
<text x="823.2" y="648.7" font-size="28" class="tc" stroke-width="0.8" textLength="72.0" lengthAdjust="spacingAndGlyphs">CBD</text>
<line x1="597.5" y1="682.8" x2="659.0" y2="682.8" stroke="#ff0000" stroke-width="2.7"/>
<path d="M628.3 668.8L642.3 682.8L628.3 696.8L614.3 682.8Z" fill="#ff0000"/>
<text x="680.0" y="692.6" font-size="28" class="tc" stroke-width="0.8" textLength="41.8" lengthAdjust="spacingAndGlyphs">0.5</text>
<text x="732.7" y="692.6" font-size="28" class="tc" stroke-width="0.8" textLength="79.7" lengthAdjust="spacingAndGlyphs">mg/L</text>
<text x="823.2" y="692.6" font-size="28" class="tc" stroke-width="0.8" textLength="72.0" lengthAdjust="spacingAndGlyphs">CBD</text>
<text x="907.6" y="692.6" font-size="28" class="tm" textLength="25.4" lengthAdjust="spacingAndGlyphs">+</text>
<text x="945.3" y="692.6" font-size="28" class="tc" stroke-width="0.8" textLength="16.4" lengthAdjust="spacingAndGlyphs">5</text>
<text x="972.6" y="692.6" font-size="28" class="tc" stroke-width="0.8" textLength="79.7" lengthAdjust="spacingAndGlyphs">mg/L</text>
<text x="1063.1" y="692.6" font-size="28" class="tc" stroke-width="0.8" textLength="121.8" lengthAdjust="spacingAndGlyphs">AgNP10</text>
<line x1="597.5" y1="726.7" x2="659.0" y2="726.7" stroke="#008000" stroke-width="2.7"/>
<path d="M628.3 716.3L638.7 737.1L617.9 737.1Z" fill="#008000"/>
<text x="680.0" y="736.5" font-size="28" class="tc" stroke-width="0.8" textLength="41.8" lengthAdjust="spacingAndGlyphs">0.5</text>
<text x="732.7" y="736.5" font-size="28" class="tc" stroke-width="0.8" textLength="79.7" lengthAdjust="spacingAndGlyphs">mg/L</text>
<text x="823.2" y="736.5" font-size="28" class="tc" stroke-width="0.8" textLength="72.0" lengthAdjust="spacingAndGlyphs">CBD</text>
<text x="907.6" y="736.5" font-size="28" class="tm" textLength="25.4" lengthAdjust="spacingAndGlyphs">+</text>
<text x="945.3" y="736.5" font-size="28" class="tc" stroke-width="0.8" textLength="16.4" lengthAdjust="spacingAndGlyphs">1</text>
<text x="972.6" y="736.5" font-size="28" class="tc" stroke-width="0.8" textLength="79.7" lengthAdjust="spacingAndGlyphs">mg/L</text>
<text x="1063.1" y="736.5" font-size="28" class="tc" stroke-width="0.8" textLength="121.8" lengthAdjust="spacingAndGlyphs">AgNP10</text>
<line x1="597.5" y1="770.6" x2="659.0" y2="770.6" stroke="#4169e1" stroke-width="2.7"/>
<path d="M628.3 781.0L638.7 760.2L617.9 760.2Z" fill="#4169e1"/>
<text x="680.0" y="780.4" font-size="28" class="tc" stroke-width="0.8" textLength="41.8" lengthAdjust="spacingAndGlyphs">0.5</text>
<text x="732.7" y="780.4" font-size="28" class="tc" stroke-width="0.8" textLength="79.7" lengthAdjust="spacingAndGlyphs">mg/L</text>
<text x="823.2" y="780.4" font-size="28" class="tc" stroke-width="0.8" textLength="72.0" lengthAdjust="spacingAndGlyphs">CBD</text>
<text x="907.6" y="780.4" font-size="28" class="tm" textLength="25.4" lengthAdjust="spacingAndGlyphs">+</text>
<text x="945.3" y="780.4" font-size="28" class="tc" stroke-width="0.8" textLength="58.2" lengthAdjust="spacingAndGlyphs">0.25</text>
<text x="1014.4" y="780.4" font-size="28" class="tc" stroke-width="0.8" textLength="79.7" lengthAdjust="spacingAndGlyphs">mg/L</text>
<text x="1104.9" y="780.4" font-size="28" class="tc" stroke-width="0.8" textLength="121.8" lengthAdjust="spacingAndGlyphs">AgNP10</text>
<clipPath id="clipb2"><rect x="1390.2" y="557.1" width="450.4" height="417.1"/></clipPath>
<line x1="1391.2" y1="905.9" x2="1839.6" y2="905.9" stroke="#8d9ab0" stroke-width="2.2" stroke-dasharray="8.5 9.5" stroke-dashoffset="8.65"/>
<g clip-path="url(#clipb2)">
<path d="M1398.9 784.7L1434.2 747.9L1469.5 673.5L1504.9 643.7L1822.7 610.9" fill="none" stroke="#808080" stroke-width="2.6" stroke-linejoin="round"/>
<circle cx="1398.9" cy="784.7" r="10" fill="#808080"/>
<circle cx="1434.2" cy="747.9" r="10" fill="#808080"/>
<circle cx="1469.5" cy="673.5" r="10" fill="#808080"/>
<circle cx="1504.9" cy="643.7" r="10" fill="#808080"/>
<circle cx="1822.7" cy="610.9" r="10" fill="#808080"/>
<path d="M1398.9 784.7L1434.2 755.8L1469.5 684.3L1504.9 644.4L1822.7 610.9" fill="none" stroke="#ffa500" stroke-width="2.6" stroke-linejoin="round"/>
<rect x="1388.7" y="774.5" width="20.4" height="20.4" fill="#ffa500"/>
<rect x="1424.0" y="745.6" width="20.4" height="20.4" fill="#ffa500"/>
<rect x="1459.3" y="674.1" width="20.4" height="20.4" fill="#ffa500"/>
<rect x="1494.7" y="634.2" width="20.4" height="20.4" fill="#ffa500"/>
<rect x="1812.5" y="600.7" width="20.4" height="20.4" fill="#ffa500"/>
<path d="M1398.9 785.3L1434.2 787.3L1469.5 828.9L1504.9 830.5L1822.7 971.5" fill="none" stroke="#ff0000" stroke-width="2.6" stroke-linejoin="round"/>
<path d="M1398.9 771.3L1412.9 785.3L1398.9 799.3L1384.9 785.3Z" fill="#ff0000"/>
<path d="M1434.2 773.3L1448.2 787.3L1434.2 801.3L1420.2 787.3Z" fill="#ff0000"/>
<path d="M1469.5 814.9L1483.5 828.9L1469.5 842.9L1455.5 828.9Z" fill="#ff0000"/>
<path d="M1504.9 816.5L1518.9 830.5L1504.9 844.5L1490.9 830.5Z" fill="#ff0000"/>
<path d="M1822.7 957.5L1836.7 971.5L1822.7 985.5L1808.7 971.5Z" fill="#ff0000"/>
<path d="M1398.9 787.3L1434.2 788.6L1469.5 819.7L1504.9 825.0L1822.7 894.1" fill="none" stroke="#008000" stroke-width="2.6" stroke-linejoin="round"/>
<line x1="1822.7" y1="886.3" x2="1822.7" y2="918.1" stroke="#008000" stroke-width="2"/>
<line x1="1816.2" y1="918.1" x2="1829.2" y2="918.1" stroke="#008000" stroke-width="2"/>
<line x1="1816.2" y1="886.3" x2="1829.2" y2="886.3" stroke="#008000" stroke-width="2"/>
<path d="M1398.9 776.9L1409.3 797.7L1388.5 797.7Z" fill="#008000"/>
<path d="M1434.2 778.2L1444.6 799.0L1423.8 799.0Z" fill="#008000"/>
<path d="M1469.5 809.3L1479.9 830.1L1459.1 830.1Z" fill="#008000"/>
<path d="M1504.9 814.6L1515.3 835.4L1494.5 835.4Z" fill="#008000"/>
<path d="M1822.7 883.7L1833.1 904.5L1812.3 904.5Z" fill="#008000"/>
<path d="M1398.9 784.0L1434.2 786.0L1469.5 810.6L1504.9 835.8L1822.7 609.3" fill="none" stroke="#4169e1" stroke-width="2.6" stroke-linejoin="round"/>
<path d="M1398.9 794.4L1409.3 773.6L1388.5 773.6Z" fill="#4169e1"/>
<path d="M1434.2 796.4L1444.6 775.6L1423.8 775.6Z" fill="#4169e1"/>
<path d="M1469.5 821.0L1479.9 800.2L1459.1 800.2Z" fill="#4169e1"/>
<path d="M1504.9 846.2L1515.3 825.4L1494.5 825.4Z" fill="#4169e1"/>
<path d="M1822.7 619.7L1833.1 598.9L1812.3 598.9Z" fill="#4169e1"/>
</g>
<rect x="1390.2" y="557.1" width="450.4" height="417.1" fill="none" stroke="#8e8e8e" stroke-width="2.4"/>
<path d="M1398.9 974.2V984.7M1434.2 974.2V984.7M1469.5 974.2V984.7M1504.9 974.2V984.7M1540.2 974.2V984.7M1610.8 974.2V984.7M1681.5 974.2V984.7M1752.1 974.2V984.7M1822.7 974.2V984.7M1390.2 971.5H1379.7M1390.2 905.9H1379.7M1390.2 840.4H1379.7M1390.2 774.8H1379.7M1390.2 709.3H1379.7M1390.2 643.7H1379.7M1390.2 578.1H1379.7" stroke="#111" stroke-width="2.3" fill="none"/>
<text x="1397.9" y="1008.0" font-size="31.5" text-anchor="middle" class="tc" stroke-width="0.9" textLength="16.1" lengthAdjust="spacingAndGlyphs">0</text>
<text x="1433.2" y="1008.0" font-size="31.5" text-anchor="middle" class="tc" stroke-width="0.9" textLength="16.1" lengthAdjust="spacingAndGlyphs">2</text>
<text x="1468.5" y="1008.0" font-size="31.5" text-anchor="middle" class="tc" stroke-width="0.9" textLength="16.1" lengthAdjust="spacingAndGlyphs">4</text>
<text x="1503.9" y="1008.0" font-size="31.5" text-anchor="middle" class="tc" stroke-width="0.9" textLength="16.1" lengthAdjust="spacingAndGlyphs">6</text>
<text x="1539.2" y="1008.0" font-size="31.5" text-anchor="middle" class="tc" stroke-width="0.9" textLength="16.1" lengthAdjust="spacingAndGlyphs">8</text>
<text x="1609.8" y="1008.0" font-size="31.5" text-anchor="middle" class="tc" stroke-width="0.9" textLength="32.2" lengthAdjust="spacingAndGlyphs">12</text>
<text x="1680.5" y="1008.0" font-size="31.5" text-anchor="middle" class="tc" stroke-width="0.9" textLength="32.2" lengthAdjust="spacingAndGlyphs">16</text>
<text x="1751.1" y="1008.0" font-size="31.5" text-anchor="middle" class="tc" stroke-width="0.9" textLength="32.2" lengthAdjust="spacingAndGlyphs">20</text>
<text x="1821.7" y="1008.0" font-size="31.5" text-anchor="middle" class="tc" stroke-width="0.9" textLength="32.2" lengthAdjust="spacingAndGlyphs">24</text>
<text x="1372.3" y="970.0" font-size="21.5" text-anchor="end" class="tc" stroke-width="0.6">0</text>
<text x="1361.0" y="979.9" font-size="31" text-anchor="end" class="tc" stroke-width="0.9" textLength="33" lengthAdjust="spacingAndGlyphs">10</text>
<text x="1372.3" y="904.4" font-size="21.5" text-anchor="end" class="tc" stroke-width="0.6">2</text>
<text x="1361.0" y="914.3" font-size="31" text-anchor="end" class="tc" stroke-width="0.9" textLength="33" lengthAdjust="spacingAndGlyphs">10</text>
<text x="1372.3" y="838.9" font-size="21.5" text-anchor="end" class="tc" stroke-width="0.6">4</text>
<text x="1361.0" y="848.8" font-size="31" text-anchor="end" class="tc" stroke-width="0.9" textLength="33" lengthAdjust="spacingAndGlyphs">10</text>
<text x="1372.3" y="773.3" font-size="21.5" text-anchor="end" class="tc" stroke-width="0.6">6</text>
<text x="1361.0" y="783.2" font-size="31" text-anchor="end" class="tc" stroke-width="0.9" textLength="33" lengthAdjust="spacingAndGlyphs">10</text>
<text x="1372.3" y="707.8" font-size="21.5" text-anchor="end" class="tc" stroke-width="0.6">8</text>
<text x="1361.0" y="717.7" font-size="31" text-anchor="end" class="tc" stroke-width="0.9" textLength="33" lengthAdjust="spacingAndGlyphs">10</text>
<text x="1372.3" y="642.2" font-size="21.5" text-anchor="end" class="tc" stroke-width="0.6">10</text>
<text x="1350.2" y="652.1" font-size="31" text-anchor="end" class="tc" stroke-width="0.9" textLength="33" lengthAdjust="spacingAndGlyphs">10</text>
<text x="1372.3" y="576.6" font-size="21.5" text-anchor="end" class="tc" stroke-width="0.6">12</text>
<text x="1350.2" y="586.5" font-size="31" text-anchor="end" class="tc" stroke-width="0.9" textLength="33" lengthAdjust="spacingAndGlyphs">10</text>
<text x="1613.7" y="1046.6" font-size="33.5" text-anchor="middle" class="tc" stroke-width="1.0" textLength="205" lengthAdjust="spacingAndGlyphs">Time (hour)</text>
<text transform="translate(1307.7 767.9) rotate(-90)" x="0" y="0" font-size="34.5" text-anchor="middle" class="tc" stroke-width="1.0" textLength="141" lengthAdjust="spacingAndGlyphs">log CFU</text>
<rect x="1850.0" y="571.6" width="591.4" height="229.2" rx="4" fill="#fff" fill-opacity="0.85" stroke="#e4e4e4" stroke-width="1.5"/>
<line x1="1860.5" y1="594.5" x2="1923.0" y2="594.5" stroke="#808080" stroke-width="2.7"/>
<circle cx="1891.5" cy="594.5" r="10" fill="#808080"/>
<text x="1943.0" y="604.3" font-size="28" class="tc" stroke-width="0.8" textLength="100.7" lengthAdjust="spacingAndGlyphs">0xMIC</text>
<line x1="1860.5" y1="638.4" x2="1923.0" y2="638.4" stroke="#ffa500" stroke-width="2.7"/>
<rect x="1881.3" y="628.2" width="20.4" height="20.4" fill="#ffa500"/>
<text x="1943.0" y="648.2" font-size="28" class="tc" stroke-width="0.8" textLength="41.8" lengthAdjust="spacingAndGlyphs">0.5</text>
<text x="1995.7" y="648.2" font-size="28" class="tc" stroke-width="0.8" textLength="79.7" lengthAdjust="spacingAndGlyphs">mg/L</text>
<text x="2086.2" y="648.2" font-size="28" class="tc" stroke-width="0.8" textLength="72.0" lengthAdjust="spacingAndGlyphs">CBD</text>
<line x1="1860.5" y1="682.3" x2="1923.0" y2="682.3" stroke="#ff0000" stroke-width="2.7"/>
<path d="M1891.5 668.3L1905.5 682.3L1891.5 696.3L1877.5 682.3Z" fill="#ff0000"/>
<text x="1943.0" y="692.1" font-size="28" class="tc" stroke-width="0.8" textLength="41.8" lengthAdjust="spacingAndGlyphs">0.5</text>
<text x="1995.7" y="692.1" font-size="28" class="tc" stroke-width="0.8" textLength="79.7" lengthAdjust="spacingAndGlyphs">mg/L</text>
<text x="2086.2" y="692.1" font-size="28" class="tc" stroke-width="0.8" textLength="72.0" lengthAdjust="spacingAndGlyphs">CBD</text>
<text x="2170.6" y="692.1" font-size="28" class="tm" textLength="25.4" lengthAdjust="spacingAndGlyphs">+</text>
<text x="2208.3" y="692.1" font-size="28" class="tc" stroke-width="0.8" textLength="16.4" lengthAdjust="spacingAndGlyphs">8</text>
<text x="2235.6" y="692.1" font-size="28" class="tc" stroke-width="0.8" textLength="79.7" lengthAdjust="spacingAndGlyphs">mg/L</text>
<text x="2326.1" y="692.1" font-size="29.5" class="tm" textLength="89.0" lengthAdjust="spacingAndGlyphs">AgNO</text>
<text x="2416.7" y="698.1" font-size="19" class="tm">3</text>
<line x1="1860.5" y1="726.2" x2="1923.0" y2="726.2" stroke="#008000" stroke-width="2.7"/>
<path d="M1891.5 715.8L1901.9 736.6L1881.1 736.6Z" fill="#008000"/>
<text x="1943.0" y="736.0" font-size="28" class="tc" stroke-width="0.8" textLength="41.8" lengthAdjust="spacingAndGlyphs">0.5</text>
<text x="1995.7" y="736.0" font-size="28" class="tc" stroke-width="0.8" textLength="79.7" lengthAdjust="spacingAndGlyphs">mg/L</text>
<text x="2086.2" y="736.0" font-size="28" class="tc" stroke-width="0.8" textLength="72.0" lengthAdjust="spacingAndGlyphs">CBD</text>
<text x="2170.6" y="736.0" font-size="28" class="tm" textLength="25.4" lengthAdjust="spacingAndGlyphs">+</text>
<text x="2208.3" y="736.0" font-size="28" class="tc" stroke-width="0.8" textLength="16.4" lengthAdjust="spacingAndGlyphs">5</text>
<text x="2235.6" y="736.0" font-size="28" class="tc" stroke-width="0.8" textLength="79.7" lengthAdjust="spacingAndGlyphs">mg/L</text>
<text x="2326.1" y="736.0" font-size="29.5" class="tm" textLength="89.0" lengthAdjust="spacingAndGlyphs">AgNO</text>
<text x="2416.7" y="742.0" font-size="19" class="tm">3</text>
<line x1="1860.5" y1="770.1" x2="1923.0" y2="770.1" stroke="#4169e1" stroke-width="2.7"/>
<path d="M1891.5 780.5L1901.9 759.7L1881.1 759.7Z" fill="#4169e1"/>
<text x="1943.0" y="779.9" font-size="28" class="tc" stroke-width="0.8" textLength="41.8" lengthAdjust="spacingAndGlyphs">0.5</text>
<text x="1995.7" y="779.9" font-size="28" class="tc" stroke-width="0.8" textLength="79.7" lengthAdjust="spacingAndGlyphs">mg/L</text>
<text x="2086.2" y="779.9" font-size="28" class="tc" stroke-width="0.8" textLength="72.0" lengthAdjust="spacingAndGlyphs">CBD</text>
<text x="2170.6" y="779.9" font-size="28" class="tm" textLength="25.4" lengthAdjust="spacingAndGlyphs">+</text>
<text x="2208.3" y="779.9" font-size="28" class="tc" stroke-width="0.8" textLength="16.4" lengthAdjust="spacingAndGlyphs">1</text>
<text x="2235.6" y="779.9" font-size="28" class="tc" stroke-width="0.8" textLength="79.7" lengthAdjust="spacingAndGlyphs">mg/L</text>
<text x="2326.1" y="779.9" font-size="29.5" class="tm" textLength="89.0" lengthAdjust="spacingAndGlyphs">AgNO</text>
<text x="2416.7" y="785.9" font-size="19" class="tm">3</text>
<clipPath id="clipa3"><rect x="126.2" y="1073.6" width="450.4" height="417.3"/></clipPath>
<line x1="127.2" y1="1425.3" x2="575.6" y2="1425.3" stroke="#7886a0" stroke-width="2.0" stroke-dasharray="8.5 9.5" stroke-dashoffset="8.65"/>
<g clip-path="url(#clipa3)">
<path d="M135.1 1301.4L170.4 1264.1L205.7 1199.8L241.1 1161.5L558.9 1130.3" fill="none" stroke="#808080" stroke-width="2.6" stroke-linejoin="round"/>
<circle cx="135.1" cy="1301.4" r="10" fill="#808080"/>
<circle cx="170.4" cy="1264.1" r="10" fill="#808080"/>
<circle cx="205.7" cy="1199.8" r="10" fill="#808080"/>
<circle cx="241.1" cy="1161.5" r="10" fill="#808080"/>
<circle cx="558.9" cy="1130.3" r="10" fill="#808080"/>
<path d="M135.1 1301.4L170.4 1264.1L205.7 1199.8L241.1 1162.4L558.9 1131.0" fill="none" stroke="#ff0000" stroke-width="2.6" stroke-linejoin="round"/>
<path d="M135.1 1287.4L149.1 1301.4L135.1 1315.4L121.1 1301.4Z" fill="#ff0000"/>
<path d="M170.4 1250.1L184.4 1264.1L170.4 1278.1L156.4 1264.1Z" fill="#ff0000"/>
<path d="M205.7 1185.8L219.7 1199.8L205.7 1213.8L191.7 1199.8Z" fill="#ff0000"/>
<path d="M241.1 1148.4L255.1 1162.4L241.1 1176.4L227.1 1162.4Z" fill="#ff0000"/>
<path d="M558.9 1117.0L572.9 1131.0L558.9 1145.0L544.9 1131.0Z" fill="#ff0000"/>
<path d="M135.1 1303.4L170.4 1266.4L205.7 1202.4L241.1 1162.1L558.9 1130.3" fill="none" stroke="#008000" stroke-width="2.6" stroke-linejoin="round"/>
<path d="M135.1 1293.0L145.5 1313.8L124.7 1313.8Z" fill="#008000"/>
<path d="M170.4 1256.0L180.8 1276.8L160.0 1276.8Z" fill="#008000"/>
<path d="M205.7 1192.0L216.1 1212.8L195.3 1212.8Z" fill="#008000"/>
<path d="M241.1 1151.7L251.5 1172.5L230.7 1172.5Z" fill="#008000"/>
<path d="M558.9 1119.9L569.3 1140.7L548.5 1140.7Z" fill="#008000"/>
<path d="M135.1 1300.1L170.4 1263.1L205.7 1198.5L241.1 1161.1L558.9 1129.7" fill="none" stroke="#4169e1" stroke-width="2.6" stroke-linejoin="round"/>
<path d="M135.1 1310.5L145.5 1289.7L124.7 1289.7Z" fill="#4169e1"/>
<path d="M170.4 1273.5L180.8 1252.7L160.0 1252.7Z" fill="#4169e1"/>
<path d="M205.7 1208.9L216.1 1188.1L195.3 1188.1Z" fill="#4169e1"/>
<path d="M241.1 1171.5L251.5 1150.7L230.7 1150.7Z" fill="#4169e1"/>
<path d="M558.9 1140.1L569.3 1119.3L548.5 1119.3Z" fill="#4169e1"/>
</g>
<rect x="126.2" y="1073.6" width="450.4" height="417.3" fill="none" stroke="#8e8e8e" stroke-width="2.4"/>
<path d="M135.1 1490.9V1501.4M170.4 1490.9V1501.4M205.7 1490.9V1501.4M241.1 1490.9V1501.4M276.4 1490.9V1501.4M347.0 1490.9V1501.4M417.7 1490.9V1501.4M488.3 1490.9V1501.4M558.9 1490.9V1501.4M126.2 1490.9H115.7M126.2 1425.3H115.7M126.2 1359.8H115.7M126.2 1294.2H115.7M126.2 1228.7H115.7M126.2 1163.1H115.7M126.2 1097.5H115.7" stroke="#111" stroke-width="2.3" fill="none"/>
<text x="134.1" y="1527.3" font-size="31.5" text-anchor="middle" class="tc" stroke-width="0.9" textLength="16.1" lengthAdjust="spacingAndGlyphs">0</text>
<text x="169.4" y="1527.3" font-size="31.5" text-anchor="middle" class="tc" stroke-width="0.9" textLength="16.1" lengthAdjust="spacingAndGlyphs">2</text>
<text x="204.7" y="1527.3" font-size="31.5" text-anchor="middle" class="tc" stroke-width="0.9" textLength="16.1" lengthAdjust="spacingAndGlyphs">4</text>
<text x="240.1" y="1527.3" font-size="31.5" text-anchor="middle" class="tc" stroke-width="0.9" textLength="16.1" lengthAdjust="spacingAndGlyphs">6</text>
<text x="275.4" y="1527.3" font-size="31.5" text-anchor="middle" class="tc" stroke-width="0.9" textLength="16.1" lengthAdjust="spacingAndGlyphs">8</text>
<text x="346.0" y="1527.3" font-size="31.5" text-anchor="middle" class="tc" stroke-width="0.9" textLength="32.2" lengthAdjust="spacingAndGlyphs">12</text>
<text x="416.7" y="1527.3" font-size="31.5" text-anchor="middle" class="tc" stroke-width="0.9" textLength="32.2" lengthAdjust="spacingAndGlyphs">16</text>
<text x="487.3" y="1527.3" font-size="31.5" text-anchor="middle" class="tc" stroke-width="0.9" textLength="32.2" lengthAdjust="spacingAndGlyphs">20</text>
<text x="557.9" y="1527.3" font-size="31.5" text-anchor="middle" class="tc" stroke-width="0.9" textLength="32.2" lengthAdjust="spacingAndGlyphs">24</text>
<text x="108.3" y="1489.4" font-size="21.5" text-anchor="end" class="tc" stroke-width="0.6">0</text>
<text x="97.0" y="1499.3" font-size="31" text-anchor="end" class="tc" stroke-width="0.9" textLength="33" lengthAdjust="spacingAndGlyphs">10</text>
<text x="108.3" y="1423.8" font-size="21.5" text-anchor="end" class="tc" stroke-width="0.6">2</text>
<text x="97.0" y="1433.7" font-size="31" text-anchor="end" class="tc" stroke-width="0.9" textLength="33" lengthAdjust="spacingAndGlyphs">10</text>
<text x="108.3" y="1358.3" font-size="21.5" text-anchor="end" class="tc" stroke-width="0.6">4</text>
<text x="97.0" y="1368.2" font-size="31" text-anchor="end" class="tc" stroke-width="0.9" textLength="33" lengthAdjust="spacingAndGlyphs">10</text>
<text x="108.3" y="1292.7" font-size="21.5" text-anchor="end" class="tc" stroke-width="0.6">6</text>
<text x="97.0" y="1302.6" font-size="31" text-anchor="end" class="tc" stroke-width="0.9" textLength="33" lengthAdjust="spacingAndGlyphs">10</text>
<text x="108.3" y="1227.2" font-size="21.5" text-anchor="end" class="tc" stroke-width="0.6">8</text>
<text x="97.0" y="1237.1" font-size="31" text-anchor="end" class="tc" stroke-width="0.9" textLength="33" lengthAdjust="spacingAndGlyphs">10</text>
<text x="108.3" y="1161.6" font-size="21.5" text-anchor="end" class="tc" stroke-width="0.6">10</text>
<text x="86.2" y="1171.5" font-size="31" text-anchor="end" class="tc" stroke-width="0.9" textLength="33" lengthAdjust="spacingAndGlyphs">10</text>
<text x="108.3" y="1096.0" font-size="21.5" text-anchor="end" class="tc" stroke-width="0.6">12</text>
<text x="86.2" y="1105.9" font-size="31" text-anchor="end" class="tc" stroke-width="0.9" textLength="33" lengthAdjust="spacingAndGlyphs">10</text>
<text x="349.7" y="1563.3" font-size="33.5" text-anchor="middle" class="tc" stroke-width="1.0" textLength="205" lengthAdjust="spacingAndGlyphs">Time (hour)</text>
<text transform="translate(43.7 1284.5) rotate(-90)" x="0" y="0" font-size="34.5" text-anchor="middle" class="tc" stroke-width="1.0" textLength="141" lengthAdjust="spacingAndGlyphs">log CFU</text>
<rect x="587.8" y="1087.8" width="388.4" height="186.9" rx="4" fill="#fff" fill-opacity="0.85" stroke="#e4e4e4" stroke-width="1.5"/>
<line x1="597.5" y1="1112.4" x2="659.0" y2="1112.4" stroke="#808080" stroke-width="2.7"/>
<circle cx="628.3" cy="1112.4" r="10" fill="#808080"/>
<text x="680.0" y="1122.2" font-size="28" class="tc" stroke-width="0.8" textLength="100.7" lengthAdjust="spacingAndGlyphs">0xMIC</text>
<line x1="597.5" y1="1156.3" x2="659.0" y2="1156.3" stroke="#ff0000" stroke-width="2.7"/>
<path d="M628.3 1142.3L642.3 1156.3L628.3 1170.3L614.3 1156.3Z" fill="#ff0000"/>
<text x="680.0" y="1166.1" font-size="28" class="tc" stroke-width="0.8" textLength="16.4" lengthAdjust="spacingAndGlyphs">5</text>
<text x="707.3" y="1166.1" font-size="28" class="tc" stroke-width="0.8" textLength="79.7" lengthAdjust="spacingAndGlyphs">mg/L</text>
<text x="797.8" y="1166.1" font-size="28" class="tc" stroke-width="0.8" textLength="121.8" lengthAdjust="spacingAndGlyphs">AgNP10</text>
<line x1="597.5" y1="1200.2" x2="659.0" y2="1200.2" stroke="#008000" stroke-width="2.7"/>
<path d="M628.3 1189.8L638.7 1210.6L617.9 1210.6Z" fill="#008000"/>
<text x="680.0" y="1210.0" font-size="28" class="tc" stroke-width="0.8" textLength="16.4" lengthAdjust="spacingAndGlyphs">1</text>
<text x="707.3" y="1210.0" font-size="28" class="tc" stroke-width="0.8" textLength="79.7" lengthAdjust="spacingAndGlyphs">mg/L</text>
<text x="797.8" y="1210.0" font-size="28" class="tc" stroke-width="0.8" textLength="121.8" lengthAdjust="spacingAndGlyphs">AgNP10</text>
<line x1="597.5" y1="1244.1" x2="659.0" y2="1244.1" stroke="#4169e1" stroke-width="2.7"/>
<path d="M628.3 1254.5L638.7 1233.7L617.9 1233.7Z" fill="#4169e1"/>
<text x="680.0" y="1253.9" font-size="28" class="tc" stroke-width="0.8" textLength="58.2" lengthAdjust="spacingAndGlyphs">0.25</text>
<text x="749.0" y="1253.9" font-size="28" class="tc" stroke-width="0.8" textLength="79.7" lengthAdjust="spacingAndGlyphs">mg/L</text>
<text x="839.6" y="1253.9" font-size="28" class="tc" stroke-width="0.8" textLength="121.8" lengthAdjust="spacingAndGlyphs">AgNP10</text>
<clipPath id="clipb3"><rect x="1390.2" y="1073.6" width="450.4" height="417.3"/></clipPath>
<line x1="1391.2" y1="1425.3" x2="1839.6" y2="1425.3" stroke="#7886a0" stroke-width="2.0" stroke-dasharray="8.5 9.5" stroke-dashoffset="8.65"/>
<g clip-path="url(#clipb3)">
<path d="M1398.9 1302.7L1434.2 1268.0L1469.5 1195.9L1504.9 1161.1L1822.7 1130.3" fill="none" stroke="#808080" stroke-width="2.6" stroke-linejoin="round"/>
<circle cx="1398.9" cy="1302.7" r="10" fill="#808080"/>
<circle cx="1434.2" cy="1268.0" r="10" fill="#808080"/>
<circle cx="1469.5" cy="1195.9" r="10" fill="#808080"/>
<circle cx="1504.9" cy="1161.1" r="10" fill="#808080"/>
<circle cx="1822.7" cy="1130.3" r="10" fill="#808080"/>
<path d="M1398.9 1305.4L1434.2 1309.0L1469.5 1341.1L1504.9 1345.0L1822.7 1490.9" fill="none" stroke="#ff0000" stroke-width="2.6" stroke-linejoin="round"/>
<path d="M1398.9 1291.4L1412.9 1305.4L1398.9 1319.4L1384.9 1305.4Z" fill="#ff0000"/>
<path d="M1434.2 1295.0L1448.2 1309.0L1434.2 1323.0L1420.2 1309.0Z" fill="#ff0000"/>
<path d="M1469.5 1327.1L1483.5 1341.1L1469.5 1355.1L1455.5 1341.1Z" fill="#ff0000"/>
<path d="M1504.9 1331.0L1518.9 1345.0L1504.9 1359.0L1490.9 1345.0Z" fill="#ff0000"/>
<path d="M1822.7 1476.9L1836.7 1490.9L1822.7 1504.9L1808.7 1490.9Z" fill="#ff0000"/>
<path d="M1398.9 1306.7L1434.2 1310.6L1469.5 1331.9L1504.9 1339.8L1822.7 1385.3" fill="none" stroke="#008000" stroke-width="2.6" stroke-linejoin="round"/>
<line x1="1822.7" y1="1373.5" x2="1822.7" y2="1411.2" stroke="#008000" stroke-width="2"/>
<line x1="1816.2" y1="1411.2" x2="1829.2" y2="1411.2" stroke="#008000" stroke-width="2"/>
<line x1="1816.2" y1="1373.5" x2="1829.2" y2="1373.5" stroke="#008000" stroke-width="2"/>
<path d="M1398.9 1296.3L1409.3 1317.1L1388.5 1317.1Z" fill="#008000"/>
<path d="M1434.2 1300.2L1444.6 1321.0L1423.8 1321.0Z" fill="#008000"/>
<path d="M1469.5 1321.5L1479.9 1342.3L1459.1 1342.3Z" fill="#008000"/>
<path d="M1504.9 1329.4L1515.3 1350.2L1494.5 1350.2Z" fill="#008000"/>
<path d="M1822.7 1374.9L1833.1 1395.7L1812.3 1395.7Z" fill="#008000"/>
<path d="M1398.9 1302.1L1434.2 1302.7L1469.5 1306.7L1504.9 1328.0L1822.7 1129.3" fill="none" stroke="#4169e1" stroke-width="2.6" stroke-linejoin="round"/>
<path d="M1398.9 1312.5L1409.3 1291.7L1388.5 1291.7Z" fill="#4169e1"/>
<path d="M1434.2 1313.1L1444.6 1292.3L1423.8 1292.3Z" fill="#4169e1"/>
<path d="M1469.5 1317.1L1479.9 1296.3L1459.1 1296.3Z" fill="#4169e1"/>
<path d="M1504.9 1338.4L1515.3 1317.6L1494.5 1317.6Z" fill="#4169e1"/>
<path d="M1822.7 1139.7L1833.1 1118.9L1812.3 1118.9Z" fill="#4169e1"/>
</g>
<rect x="1390.2" y="1073.6" width="450.4" height="417.3" fill="none" stroke="#8e8e8e" stroke-width="2.4"/>
<path d="M1398.9 1490.9V1501.4M1434.2 1490.9V1501.4M1469.5 1490.9V1501.4M1504.9 1490.9V1501.4M1540.2 1490.9V1501.4M1610.8 1490.9V1501.4M1681.5 1490.9V1501.4M1752.1 1490.9V1501.4M1822.7 1490.9V1501.4M1390.2 1490.9H1379.7M1390.2 1425.3H1379.7M1390.2 1359.8H1379.7M1390.2 1294.2H1379.7M1390.2 1228.7H1379.7M1390.2 1163.1H1379.7M1390.2 1097.5H1379.7" stroke="#111" stroke-width="2.3" fill="none"/>
<text x="1397.9" y="1527.3" font-size="31.5" text-anchor="middle" class="tc" stroke-width="0.9" textLength="16.1" lengthAdjust="spacingAndGlyphs">0</text>
<text x="1433.2" y="1527.3" font-size="31.5" text-anchor="middle" class="tc" stroke-width="0.9" textLength="16.1" lengthAdjust="spacingAndGlyphs">2</text>
<text x="1468.5" y="1527.3" font-size="31.5" text-anchor="middle" class="tc" stroke-width="0.9" textLength="16.1" lengthAdjust="spacingAndGlyphs">4</text>
<text x="1503.9" y="1527.3" font-size="31.5" text-anchor="middle" class="tc" stroke-width="0.9" textLength="16.1" lengthAdjust="spacingAndGlyphs">6</text>
<text x="1539.2" y="1527.3" font-size="31.5" text-anchor="middle" class="tc" stroke-width="0.9" textLength="16.1" lengthAdjust="spacingAndGlyphs">8</text>
<text x="1609.8" y="1527.3" font-size="31.5" text-anchor="middle" class="tc" stroke-width="0.9" textLength="32.2" lengthAdjust="spacingAndGlyphs">12</text>
<text x="1680.5" y="1527.3" font-size="31.5" text-anchor="middle" class="tc" stroke-width="0.9" textLength="32.2" lengthAdjust="spacingAndGlyphs">16</text>
<text x="1751.1" y="1527.3" font-size="31.5" text-anchor="middle" class="tc" stroke-width="0.9" textLength="32.2" lengthAdjust="spacingAndGlyphs">20</text>
<text x="1821.7" y="1527.3" font-size="31.5" text-anchor="middle" class="tc" stroke-width="0.9" textLength="32.2" lengthAdjust="spacingAndGlyphs">24</text>
<text x="1372.3" y="1489.4" font-size="21.5" text-anchor="end" class="tc" stroke-width="0.6">0</text>
<text x="1361.0" y="1499.3" font-size="31" text-anchor="end" class="tc" stroke-width="0.9" textLength="33" lengthAdjust="spacingAndGlyphs">10</text>
<text x="1372.3" y="1423.8" font-size="21.5" text-anchor="end" class="tc" stroke-width="0.6">2</text>
<text x="1361.0" y="1433.7" font-size="31" text-anchor="end" class="tc" stroke-width="0.9" textLength="33" lengthAdjust="spacingAndGlyphs">10</text>
<text x="1372.3" y="1358.3" font-size="21.5" text-anchor="end" class="tc" stroke-width="0.6">4</text>
<text x="1361.0" y="1368.2" font-size="31" text-anchor="end" class="tc" stroke-width="0.9" textLength="33" lengthAdjust="spacingAndGlyphs">10</text>
<text x="1372.3" y="1292.7" font-size="21.5" text-anchor="end" class="tc" stroke-width="0.6">6</text>
<text x="1361.0" y="1302.6" font-size="31" text-anchor="end" class="tc" stroke-width="0.9" textLength="33" lengthAdjust="spacingAndGlyphs">10</text>
<text x="1372.3" y="1227.2" font-size="21.5" text-anchor="end" class="tc" stroke-width="0.6">8</text>
<text x="1361.0" y="1237.1" font-size="31" text-anchor="end" class="tc" stroke-width="0.9" textLength="33" lengthAdjust="spacingAndGlyphs">10</text>
<text x="1372.3" y="1161.6" font-size="21.5" text-anchor="end" class="tc" stroke-width="0.6">10</text>
<text x="1350.2" y="1171.5" font-size="31" text-anchor="end" class="tc" stroke-width="0.9" textLength="33" lengthAdjust="spacingAndGlyphs">10</text>
<text x="1372.3" y="1096.0" font-size="21.5" text-anchor="end" class="tc" stroke-width="0.6">12</text>
<text x="1350.2" y="1105.9" font-size="31" text-anchor="end" class="tc" stroke-width="0.9" textLength="33" lengthAdjust="spacingAndGlyphs">10</text>
<text x="1613.7" y="1563.3" font-size="33.5" text-anchor="middle" class="tc" stroke-width="1.0" textLength="205" lengthAdjust="spacingAndGlyphs">Time (hour)</text>
<text transform="translate(1307.7 1284.5) rotate(-90)" x="0" y="0" font-size="34.5" text-anchor="middle" class="tc" stroke-width="1.0" textLength="141" lengthAdjust="spacingAndGlyphs">log CFU</text>
<rect x="1849.1" y="1087.6" width="326.7" height="186.8" rx="4" fill="#fff" fill-opacity="0.85" stroke="#e4e4e4" stroke-width="1.5"/>
<line x1="1860.5" y1="1112.2" x2="1923.0" y2="1112.2" stroke="#808080" stroke-width="2.7"/>
<circle cx="1891.5" cy="1112.2" r="10" fill="#808080"/>
<text x="1943.0" y="1122.0" font-size="28" class="tc" stroke-width="0.8" textLength="100.7" lengthAdjust="spacingAndGlyphs">0xMIC</text>
<line x1="1860.5" y1="1156.1" x2="1923.0" y2="1156.1" stroke="#ff0000" stroke-width="2.7"/>
<path d="M1891.5 1142.1L1905.5 1156.1L1891.5 1170.1L1877.5 1156.1Z" fill="#ff0000"/>
<text x="1943.0" y="1165.9" font-size="28" class="tc" stroke-width="0.8" textLength="16.4" lengthAdjust="spacingAndGlyphs">8</text>
<text x="1970.3" y="1165.9" font-size="28" class="tc" stroke-width="0.8" textLength="79.7" lengthAdjust="spacingAndGlyphs">mg/L</text>
<text x="2060.8" y="1165.9" font-size="29.5" class="tm" textLength="89.0" lengthAdjust="spacingAndGlyphs">AgNO</text>
<text x="2151.4" y="1171.9" font-size="19" class="tm">3</text>
<line x1="1860.5" y1="1200.0" x2="1923.0" y2="1200.0" stroke="#008000" stroke-width="2.7"/>
<path d="M1891.5 1189.6L1901.9 1210.4L1881.1 1210.4Z" fill="#008000"/>
<text x="1943.0" y="1209.8" font-size="28" class="tc" stroke-width="0.8" textLength="16.4" lengthAdjust="spacingAndGlyphs">5</text>
<text x="1970.3" y="1209.8" font-size="28" class="tc" stroke-width="0.8" textLength="79.7" lengthAdjust="spacingAndGlyphs">mg/L</text>
<text x="2060.8" y="1209.8" font-size="29.5" class="tm" textLength="89.0" lengthAdjust="spacingAndGlyphs">AgNO</text>
<text x="2151.4" y="1215.8" font-size="19" class="tm">3</text>
<line x1="1860.5" y1="1243.9" x2="1923.0" y2="1243.9" stroke="#4169e1" stroke-width="2.7"/>
<path d="M1891.5 1254.3L1901.9 1233.5L1881.1 1233.5Z" fill="#4169e1"/>
<text x="1943.0" y="1253.7" font-size="28" class="tc" stroke-width="0.8" textLength="16.4" lengthAdjust="spacingAndGlyphs">1</text>
<text x="1970.3" y="1253.7" font-size="28" class="tc" stroke-width="0.8" textLength="79.7" lengthAdjust="spacingAndGlyphs">mg/L</text>
<text x="2060.8" y="1253.7" font-size="29.5" class="tm" textLength="89.0" lengthAdjust="spacingAndGlyphs">AgNO</text>
<text x="2151.4" y="1259.7" font-size="19" class="tm">3</text>
<text x="45.8" y="38.5" font-size="38" class="tc" stroke-width="1.1" textLength="19.6" lengthAdjust="spacingAndGlyphs">a</text>
<text x="1309.3" y="38.5" font-size="38" class="tc" stroke-width="1.1" textLength="21.8" lengthAdjust="spacingAndGlyphs">b</text>
</g>
</svg>
</body></html>
